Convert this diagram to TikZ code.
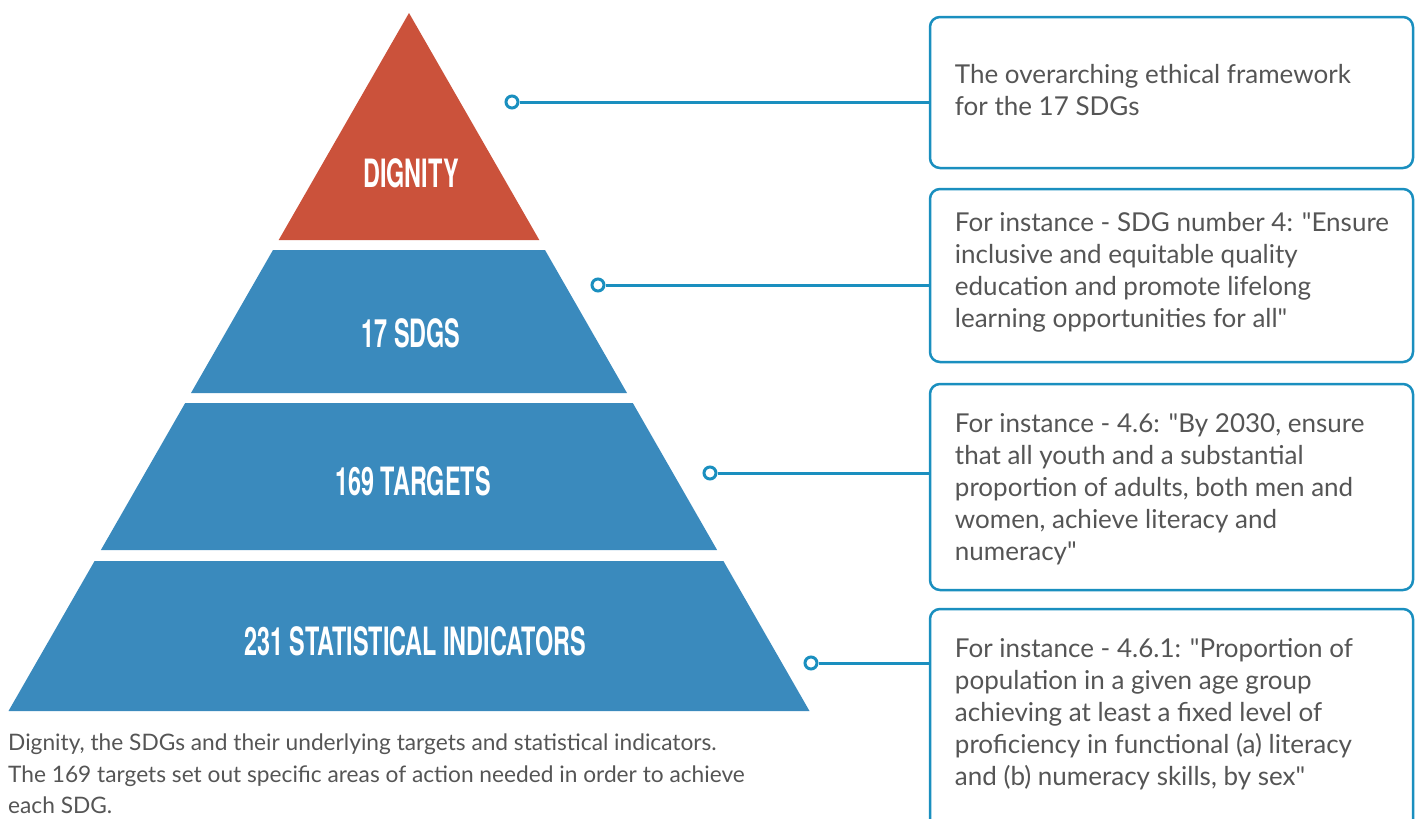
\documentclass[tikz,border=0pt]{standalone}
\usepackage{fontspec}
\setmainfont{Lato}[Ligatures=TeXOff]
\newfontfamily\headfont{TeX Gyre Heros}
\definecolor{dignityred}{HTML}{CB523B}
\definecolor{layerblue}{HTML}{3A8ABD}
\definecolor{linkblue}{HTML}{1A8FBF}
\definecolor{bodygray}{HTML}{555555}
\newcommand{\levellabel}[1]{\scalebox{0.6}[1]{#1}}
\begin{document}
\begin{tikzpicture}[x=1pt,y=-1pt,
  level/.style={font=\headfont\bfseries\fontsize{39}{39}\selectfont, text=white, inner sep=0pt},
  infobox/.style={draw=linkblue, line width=2.5pt, rounded corners=10pt,
    minimum width=483pt, inner sep=0pt},
  boxtext/.style={font=\fontsize{26}{32}\selectfont, text=bodygray, align=left,
    inner sep=0pt, anchor=west},
  dot/.style={circle, draw=linkblue, line width=3pt, fill=white,
    minimum size=12pt, inner sep=0pt},
  link/.style={draw=linkblue, line width=3pt},
]
\useasboundingbox (0,0) rectangle (1417,819);
\clip (0,0) rectangle (1417,819);

% pyramid layers
\fill[dignityred] (409,13) -- (539.3,240) -- (278.7,240) -- cycle;
\fill[layerblue] (273,250) -- (545,250) -- (627,393) -- (191,393) -- cycle;
\fill[layerblue] (185.2,403) -- (632.8,403) -- (717.1,550) -- (100.9,550) -- cycle;
\fill[layerblue] (94.6,561) -- (723.4,561) -- (809.5,711) -- (8.5,711) -- cycle;

% layer labels
\node[level] (l1) at (411,173) {\levellabel{DIGNITY}};
\node[level] (l2) at (411,333) {\levellabel{17 SDGS}};
\node[level] (l3) at (413,481) {\levellabel{169 TARGETS}};
\node[level] (l4) at (415,641) {\levellabel{231 STATISTICAL INDICATORS}};

% explanation boxes
\node[infobox, minimum height=151pt] (f1) at (1171.5,92.5) {};
\node[infobox, minimum height=173pt] (f2) at (1171.5,275.5) {};
\node[infobox, minimum height=206pt] (f3) at (1171.5,487) {};
\node[infobox, minimum height=230pt] (f4) at (1171.5,724) {};

\node[boxtext] (t1) at ([xshift=26pt]f1.west |- 0,90) {The overarching ethical framework\\for the 17 SDGs};
\node[boxtext] (t2) at ([xshift=26pt]f2.west |- 0,272) {For instance - SDG number 4: "Ensure\\inclusive and equitable quality\\education and promote lifelong\\learning opportunities for all"};
\node[boxtext] (t3) at ([xshift=26pt]f3.west |- 0,489) {For instance - 4.6: "By 2030, ensure\\that all youth and a substantial\\proportion of adults, both men and\\women, achieve literacy and\\numeracy"};
\node[boxtext] (t4) at ([xshift=26pt]f4.west |- 0,714) {For instance - 4.6.1: "Proportion of\\population in a given age group\\achieving at least a fixed level of\\proficiency in functional (a) literacy\\and (b) numeracy skills, by sex"};

% connectors
\node[dot] (d1) at (512,102) {};
\node[dot] (d2) at (598,285) {};
\node[dot] (d3) at (710,473) {};
\node[dot] (d4) at (811,663) {};
\draw[link] (d1) -- (d1 -| f1.west);
\draw[link] (d2) -- (d2 -| f2.west);
\draw[link] (d3) -- (d3 -| f3.west);
\draw[link] (d4) -- (d4 -| f4.west);

% caption
\node[font=\fontsize{22.7}{31.5}\selectfont, text=bodygray, align=left, inner sep=0pt,
  anchor=north west] (cap) at (8,734) {Dignity, the SDGs and their underlying targets and statistical indicators.\\The 169 targets set out specific areas of action needed in order to achieve\\each SDG.};
\end{tikzpicture}
\end{document}
